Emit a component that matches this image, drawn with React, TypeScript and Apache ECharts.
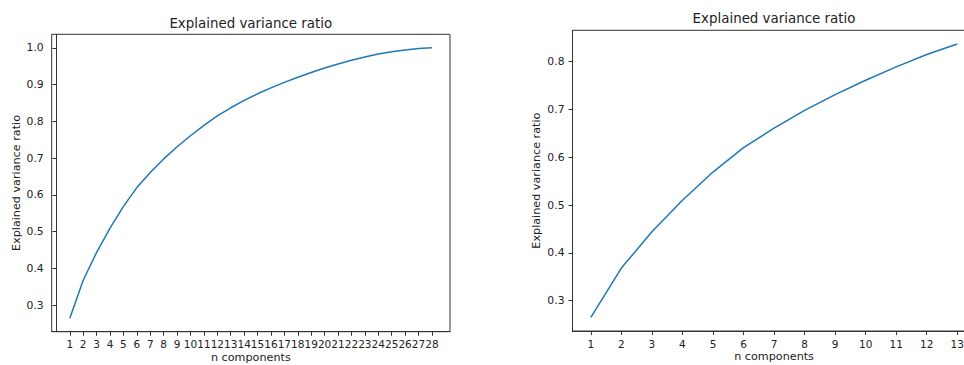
import React, { useEffect, useRef } from "react";
import * as echarts from "echarts";

const titleText = "Explained variance ratio";
const xName = "n components";
const yName = "Explained variance ratio";

// Left chart: 28 components
const componentsLeft = [1, 2, 3, 4, 5, 6, 7, 8, 9, 10, 11, 12, 13, 14, 15, 16, 17, 18, 19, 20, 21, 22, 23, 24, 25, 26, 27, 28];
const varianceLeft = [0.265, 0.368, 0.444, 0.510, 0.569, 0.620, 0.661, 0.698, 0.731, 0.761, 0.789, 0.815, 0.837, 0.857, 0.875, 0.891, 0.906, 0.920, 0.933, 0.945, 0.956, 0.966, 0.975, 0.983, 0.989, 0.994, 0.998, 1.0];
const yTicksLeft = [0.3, 0.4, 0.5, 0.6, 0.7, 0.8, 0.9, 1.0];

// Right chart: 13 components
const componentsRight = [1, 2, 3, 4, 5, 6, 7, 8, 9, 10, 11, 12, 13];
const varianceRight = [0.265, 0.368, 0.444, 0.510, 0.569, 0.620, 0.661, 0.698, 0.731, 0.761, 0.789, 0.815, 0.837];
const yTicksRight = [0.3, 0.4, 0.5, 0.6, 0.7, 0.8];

const FONT = "DejaVu Sans";
const TEXT = "#222";
const AXIS = "#333";
const LINE = "#1f77b4";

function pad(min: number, max: number) {
  const m = (max - min) * 0.05;
  return [min - m, max + m];
}

export default function App() {
  const ref = useRef<HTMLDivElement>(null);
  useEffect(() => {
    if (!ref.current) return;
    const chart = echarts.init(ref.current, null, { renderer: "svg" });

    const xl = pad(componentsLeft[0], componentsLeft[componentsLeft.length - 1]);
    const yl = pad(Math.min(...varianceLeft), Math.max(...varianceLeft));
    const xr = pad(componentsRight[0], componentsRight[componentsRight.length - 1]);
    const yr = pad(Math.min(...varianceRight), Math.max(...varianceRight));

    const grids = [
      { left: 51.7, top: 34.3, width: 398.3, height: 297.4 },
      { left: 572.5, top: 30.3, width: 403.1, height: 300.7 },
    ];

    const xAxis = (i: number, min: number, max: number, ticks: number[]) => ({
      type: "value",
      gridIndex: i,
      min,
      max,
      name: xName,
      nameLocation: "middle",
      nameGap: 20,
      nameMoveOverlap: false,
      nameTextStyle: { fontFamily: FONT, fontSize: 11.2, color: TEXT },
      splitLine: { show: false },
      axisLine: { show: true, onZero: false, lineStyle: { color: AXIS, width: 1 } },
      axisTick: { show: true, inside: false, length: 4, customValues: ticks, lineStyle: { color: AXIS } },
      axisLabel: {
        customValues: ticks,
        fontFamily: FONT,
        fontSize: 10.5,
        color: TEXT,
        margin: 7,
        hideOverlap: false,
        formatter: (v: number) => String(Math.round(v)),
      },
    });

    const yAxis = (i: number, min: number, max: number, ticks: number[], gap: number) => ({
      type: "value",
      gridIndex: i,
      min,
      max,
      name: yName,
      nameLocation: "middle",
      nameGap: gap,
      nameTextStyle: { fontFamily: FONT, fontSize: 11.2, color: TEXT },
      splitLine: { show: false },
      axisLine: { show: true, lineStyle: { color: AXIS, width: 1 } },
      axisTick: { show: true, inside: false, length: 4, customValues: ticks, lineStyle: { color: AXIS } },
      axisLabel: {
        customValues: ticks,
        fontFamily: FONT,
        fontSize: 10.8,
        color: TEXT,
        margin: 8,
        formatter: (v: number) => v.toFixed(1),
      },
    });

    chart.setOption({
      animation: false,
      backgroundColor: "#fff",
      title: [
        {
          text: titleText,
          left: 250.8,
          top: 17,
          textAlign: "center",
          padding: 0,
          textStyle: { fontFamily: FONT, fontSize: 13.4, fontWeight: "normal", color: TEXT },
        },
        {
          text: titleText,
          left: 774,
          top: 12,
          textAlign: "center",
          padding: 0,
          textStyle: { fontFamily: FONT, fontSize: 13.4, fontWeight: "normal", color: TEXT },
        },
      ],
      grid: grids.map((g) => ({
        ...g,
        show: true,
        containLabel: false,
        outerBoundsMode: "none",
        borderColor: AXIS,
        borderWidth: 1,
        backgroundColor: "transparent",
      })),
      xAxis: [
        xAxis(0, xl[0], xl[1], componentsLeft),
        xAxis(1, xr[0], xr[1], componentsRight),
      ],
      yAxis: [
        yAxis(0, yl[0], yl[1], yTicksLeft, 30),
        yAxis(1, yr[0], yr[1], yTicksRight, 31),
      ],
      series: [
        {
          type: "line",
          xAxisIndex: 0,
          yAxisIndex: 0,
          data: componentsLeft.map((c, i) => [c, varianceLeft[i]]),
          showSymbol: false,
          symbol: "none",
          lineStyle: { color: LINE, width: 1.5 },
        },
        {
          type: "line",
          xAxisIndex: 1,
          yAxisIndex: 1,
          data: componentsRight.map((c, i) => [c, varianceRight[i]]),
          showSymbol: false,
          symbol: "none",
          lineStyle: { color: LINE, width: 1.5 },
        },
      ],
    });
    return () => chart.dispose();
  }, []);

  return (
    <div
      ref={ref}
      style={{ position: "fixed", left: 0, top: 0, width: 1000, height: 365, overflow: "hidden" }}
    />
  );
}
